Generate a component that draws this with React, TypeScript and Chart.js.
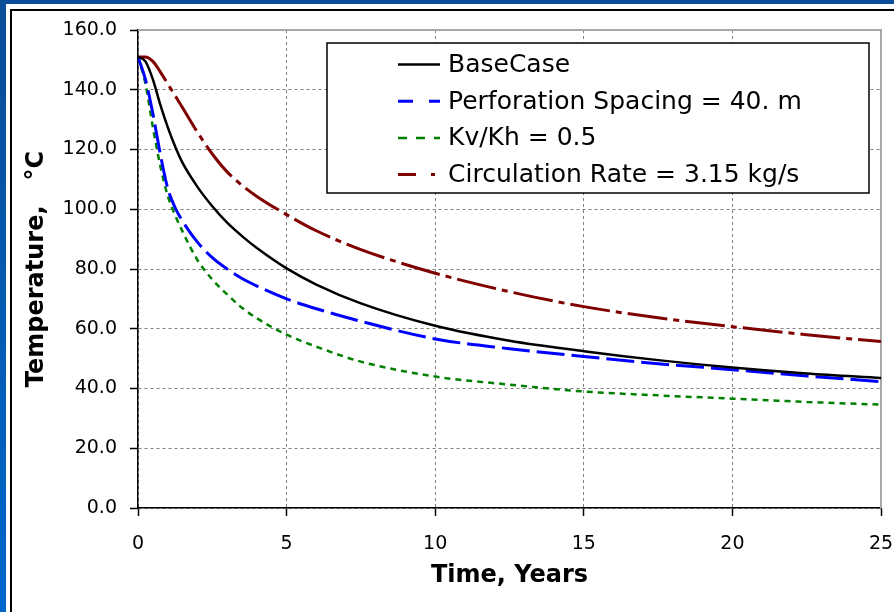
import React, { useEffect, useRef } from "react";
import { Chart, registerables } from "chart.js";
Chart.register(...registerables);

// ---- data ----
const years = [0, 0.25, 0.5, 0.75, 1, 1.25, 1.5, 2, 2.5, 3, 3.5, 4, 5, 6, 7.5, 10, 12.5, 15, 17.5, 20, 22.5, 25];
const baseCase = [151, 149.5, 143.5, 135, 127.5, 121, 115.5, 107.5, 101, 95.5, 91, 87, 80.2, 74.8, 68.5, 61, 56, 52.5, 49.5, 47, 45, 43.5];
const perfSpacing = [151, 143.5, 132, 118.5, 107, 100.5, 96, 89, 83.8, 80, 76.8, 74.3, 70, 66.7, 62.5, 56.6, 53.3, 50.7, 48.3, 46.3, 44.2, 42.3];
const kvKh = [151, 142, 127.5, 114.5, 104.5, 98, 92.5, 83, 76.5, 71.5, 67, 63.5, 58, 54, 49, 44, 41.3, 39, 37.7, 36.6, 35.5, 34.6];
const circRate = [151, 151, 149.5, 146, 142, 138, 134, 125.8, 118.5, 112.5, 108, 104.3, 98.2, 92.8, 86.5, 78.6, 72.4, 67.4, 63.7, 60.7, 58, 55.7];
const seriesLabels = ["BaseCase", "Perforation Spacing = 40. m", "Kv/Kh = 0.5", "Circulation Rate = 3.15 kg/s"];
const xTitle = "Time, Years";
const yTitle = "Temperature,   \u00B0C";

const FONT = "'DejaVu Sans', sans-serif";
const colors = ["#000000", "#0000ff", "#008000", "#800000"];
const widths = [2.5, 3, 2.5, 3];
const dashes: number[][] = [[], [28, 7], [6, 5], [40, 6, 6, 6]];
const legendDashes: number[][] = [[], [15, 16], [9, 9], [18, 15, 4, 15]];

const toPts = (ys: number[]) => ys.map((y, i) => ({ x: years[i], y }));

const frameDecor = {
  id: "frameDecor",
  beforeDatasetsDraw(chart: any) {
    const { ctx, chartArea: a } = chart;
    ctx.save();
    ctx.strokeStyle = "#a8a8a8";
    ctx.lineWidth = 2;
    ctx.beginPath();
    ctx.moveTo(a.left, a.top);
    ctx.lineTo(a.right, a.top);
    ctx.lineTo(a.right, a.bottom);
    ctx.stroke();
    ctx.restore();
  },
};

const boxLegend = {
  id: "boxLegend",
  afterDatasetsDraw(chart: any) {
    const { ctx } = chart;
    const L = 327, T = 43, R = 869, B = 193;
    ctx.save();
    ctx.fillStyle = "#ffffff";
    ctx.fillRect(L, T, R - L, B - T);
    ctx.strokeStyle = "#000000";
    ctx.lineWidth = 1.5;
    ctx.strokeRect(L, T, R - L, B - T);
    chart.data.datasets.forEach((ds: any, i: number) => {
      const y = 64.5 + i * 36.7;
      ctx.beginPath();
      ctx.setLineDash(legendDashes[i]);
      ctx.strokeStyle = ds.borderColor;
      ctx.lineWidth = ds.borderWidth;
      ctx.moveTo(398, y);
      ctx.lineTo(440, y);
      ctx.stroke();
      ctx.setLineDash([]);
      ctx.fillStyle = "#000000";
      ctx.font = `25px ${FONT}`;
      ctx.textBaseline = "middle";
      ctx.textAlign = "left";
      ctx.fillText(ds.label, 448, y + 1);
    });
    ctx.restore();
  },
};

export default function App() {
  const ref = useRef<HTMLCanvasElement>(null);
  useEffect(() => {
    if (!ref.current) return;
    const series = [baseCase, perfSpacing, kvKh, circRate];
    const chart = new Chart(ref.current, {
      type: "line",
      data: {
        datasets: series.map((s, i) => ({
          label: seriesLabels[i],
          data: toPts(s),
          borderColor: colors[i],
          backgroundColor: colors[i],
          borderWidth: widths[i],
          borderDash: dashes[i],
          pointRadius: 0,
          fill: false,
          cubicInterpolationMode: "monotone" as const,
        })),
      },
      options: {
        animation: false,
        responsive: true,
        maintainAspectRatio: false,
        layout: { padding: { left: 0, top: 30, right: 13, bottom: 0 } },
        plugins: { legend: { display: false }, tooltip: { enabled: false } },
        scales: {
          x: {
            type: "linear",
            min: 0,
            max: 25,
            afterFit: (s: any) => { s.height = 104; s.paddingLeft = 0; s.paddingRight = 0; },
            ticks: { stepSize: 5, color: "#000", font: { family: FONT, size: 19 }, padding: 17, maxRotation: 0 },
            grid: { color: "#808080", lineWidth: 1, tickLength: 8, tickColor: "#000", tickWidth: 1.5, tickBorderDash: [] },
            border: { color: "#000", width: 1.5, dash: [3, 3] },
            title: { display: true, text: xTitle, color: "#000", font: { family: FONT, size: 24, weight: "bold" }, padding: { top: 0, bottom: 22 } },
          },
          y: {
            type: "linear",
            min: 0,
            max: 160,
            afterFit: (s: any) => { s.width = 138; s.paddingTop = 0; s.paddingBottom = 0; },
            ticks: { stepSize: 20, color: "#000", font: { family: FONT, size: 19 }, padding: 13, callback: (v: any) => Number(v).toFixed(1) },
            grid: { color: "#808080", lineWidth: 1, tickLength: 8, tickColor: "#000", tickWidth: 1.5, tickBorderDash: [] },
            border: { color: "#000", width: 1.5, dash: [3, 3] },
            title: { display: true, text: yTitle, color: "#000", font: { family: FONT, size: 24, weight: "bold" }, padding: { top: 22, bottom: 0 } },
          },
        },
      },
      plugins: [frameDecor, boxLegend],
    });
    return () => chart.destroy();
  }, []);

  return (
    <div style={{ position: "fixed", left: 0, top: 0, width: 894, height: 612, background: "#fff", overflow: "hidden" }}>
      <div style={{ position: "absolute", left: 0, top: 0, width: 894, height: 4, background: "#0a4d98" }} />
      <div style={{ position: "absolute", left: 0, top: 0, width: 6, height: 612, background: "linear-gradient(#0a4d98, #0068cc)" }} />
      <div style={{ position: "absolute", left: 10, top: 9, width: 884, height: 2, background: "#000" }} />
      <div style={{ position: "absolute", left: 10, top: 9, width: 2, height: 603, background: "#000" }} />
      <div style={{ position: "absolute", left: 0, top: 0, width: 894, height: 612 }}>
        <canvas ref={ref} />
      </div>
    </div>
  );
}
